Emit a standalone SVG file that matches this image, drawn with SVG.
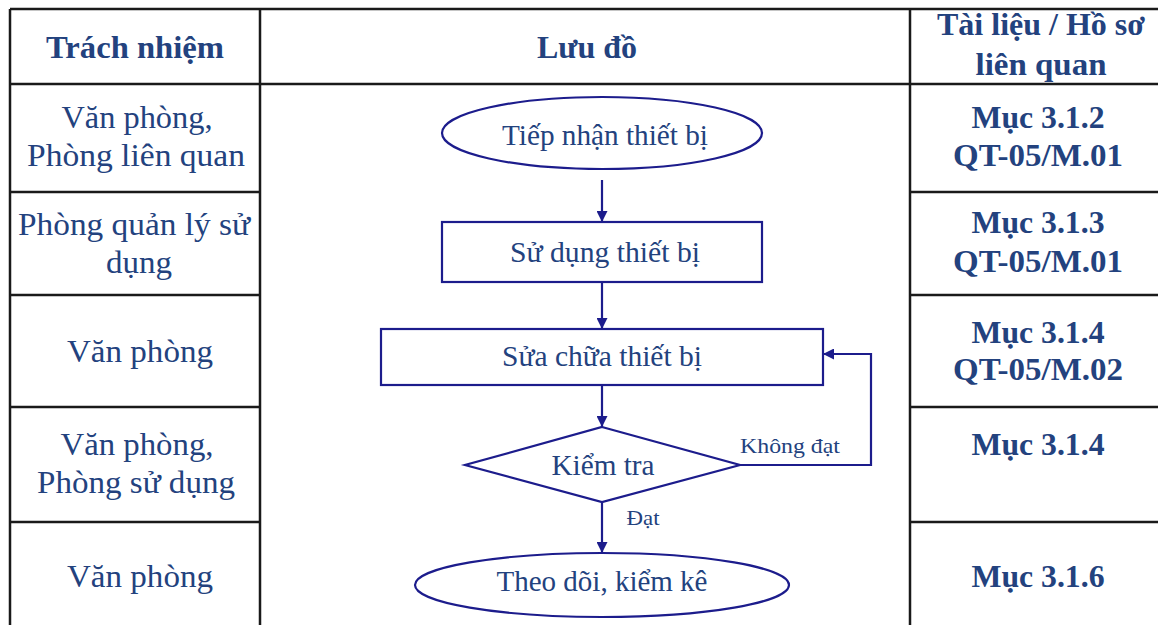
<svg xmlns="http://www.w3.org/2000/svg" width="1158" height="625" viewBox="0 0 1158 625">
<defs>
<style>
.grid{stroke:#1a1a1a;stroke-width:2.5;fill:none}
.shape{stroke:#1c1c8c;stroke-width:2.2;fill:#ffffff}
.conn{stroke:#1c1c8c;stroke-width:2.2;fill:none}
.t{font-family:"Liberation Serif","Times New Roman",serif;fill:#23427e;text-anchor:middle}
.hd{font-size:31px;font-weight:bold}
.rg{font-size:31px}
.fc{font-size:30px}
.lb{font-size:21px}
</style>
<marker id="arr" viewBox="0 0 10 10" refX="10" refY="5" markerWidth="12" markerHeight="11" markerUnits="userSpaceOnUse" orient="auto">
<path d="M0,0 L10,5 L0,10 z" fill="#1c1c8c"/>
</marker>
</defs>
<rect width="1158" height="625" fill="#ffffff"/>
<g id="table">
<line class="grid" x1="10" y1="9" x2="1158" y2="9"/>
<line class="grid" x1="10" y1="84" x2="1158" y2="84"/>
<line class="grid" x1="10" y1="9" x2="10" y2="625"/>
<line class="grid" x1="260" y1="9" x2="260" y2="625"/>
<line class="grid" x1="910" y1="9" x2="910" y2="625"/>
<line class="grid" x1="10" y1="192" x2="260" y2="192"/>
<line class="grid" x1="10" y1="295" x2="260" y2="295"/>
<line class="grid" x1="10" y1="407" x2="260" y2="407"/>
<line class="grid" x1="10" y1="522" x2="260" y2="522"/>
<line class="grid" x1="910" y1="192" x2="1158" y2="192"/>
<line class="grid" x1="910" y1="295" x2="1158" y2="295"/>
<line class="grid" x1="910" y1="407" x2="1158" y2="407"/>
<line class="grid" x1="910" y1="522" x2="1158" y2="522"/>
</g>
<g id="headers">
<text class="t hd" x="135" y="58" textLength="178" lengthAdjust="spacingAndGlyphs">Trách nhiệm</text>
<text class="t hd" x="587" y="58" textLength="100" lengthAdjust="spacingAndGlyphs">Lưu đồ</text>
<text class="t hd" x="1041" y="35" textLength="208" lengthAdjust="spacingAndGlyphs">Tài liệu / Hồ sơ</text>
<text class="t hd" x="1041" y="75" textLength="131" lengthAdjust="spacingAndGlyphs">liên quan</text>
</g>
<g id="responsibility">
<text class="t rg" x="137" y="128" textLength="151" lengthAdjust="spacingAndGlyphs">Văn phòng,</text>
<text class="t rg" x="136" y="166" textLength="218" lengthAdjust="spacingAndGlyphs">Phòng liên quan</text>
<text class="t rg" x="134" y="235" textLength="232" lengthAdjust="spacingAndGlyphs">Phòng quản lý sử</text>
<text class="t rg" x="139" y="273" textLength="66" lengthAdjust="spacingAndGlyphs">dụng</text>
<text class="t rg" x="140" y="362" textLength="146" lengthAdjust="spacingAndGlyphs">Văn phòng</text>
<text class="t rg" x="137" y="455" textLength="153" lengthAdjust="spacingAndGlyphs">Văn phòng,</text>
<text class="t rg" x="136" y="493" textLength="198" lengthAdjust="spacingAndGlyphs">Phòng sử dụng</text>
<text class="t rg" x="140" y="587" textLength="146" lengthAdjust="spacingAndGlyphs">Văn phòng</text>
</g>
<g id="documents">
<text class="t hd" x="1038" y="128" textLength="133" lengthAdjust="spacingAndGlyphs">Mục 3.1.2</text>
<text class="t hd" x="1038" y="166" textLength="170" lengthAdjust="spacingAndGlyphs">QT-05/M.01</text>
<text class="t hd" x="1038" y="233" textLength="133" lengthAdjust="spacingAndGlyphs">Mục 3.1.3</text>
<text class="t hd" x="1038" y="272" textLength="170" lengthAdjust="spacingAndGlyphs">QT-05/M.01</text>
<text class="t hd" x="1038" y="343" textLength="133" lengthAdjust="spacingAndGlyphs">Mục 3.1.4</text>
<text class="t hd" x="1038" y="380" textLength="170" lengthAdjust="spacingAndGlyphs">QT-05/M.02</text>
<text class="t hd" x="1038" y="455" textLength="133" lengthAdjust="spacingAndGlyphs">Mục 3.1.4</text>
<text class="t hd" x="1038" y="587" textLength="133" lengthAdjust="spacingAndGlyphs">Mục 3.1.6</text>
</g>
<g id="connectors">
<line class="conn" x1="602" y1="180" x2="602" y2="222" marker-end="url(#arr)"/>
<line class="conn" x1="602" y1="282" x2="602" y2="329" marker-end="url(#arr)"/>
<line class="conn" x1="602" y1="385" x2="602" y2="427" marker-end="url(#arr)"/>
<line class="conn" x1="602" y1="502" x2="602" y2="553" marker-end="url(#arr)"/>
<polyline class="conn" points="740,465 871,465 871,354 823,354" marker-end="url(#arr)"/>
<text class="t lb" x="790" y="453" textLength="100" lengthAdjust="spacingAndGlyphs">Không đạt</text>
<text class="t lb" x="643" y="525" textLength="33" lengthAdjust="spacingAndGlyphs">Đạt</text>
</g>
<g id="n1">
<ellipse class="shape" cx="602" cy="133" rx="160" ry="36"/>
<text class="t fc" x="605" y="145" textLength="206" lengthAdjust="spacingAndGlyphs">Tiếp nhận thiết  bị</text>
</g>
<g id="n2">
<rect class="shape" x="442" y="222" width="320" height="60"/>
<text class="t fc" x="605" y="262" textLength="190" lengthAdjust="spacingAndGlyphs">Sử dụng thiết bị</text>
</g>
<g id="n3">
<rect class="shape" x="381" y="329" width="442" height="56"/>
<text class="t fc" x="602" y="366" textLength="200" lengthAdjust="spacingAndGlyphs">Sửa chữa thiết bị</text>
</g>
<g id="n4">
<polygon class="shape" points="602,427 740,465 602,502 465,465"/>
<text class="t fc" x="603" y="475" textLength="103" lengthAdjust="spacingAndGlyphs">Kiểm tra</text>
</g>
<g id="n5">
<ellipse class="shape" cx="602" cy="585" rx="187" ry="32"/>
<text class="t fc" x="602" y="591" textLength="211" lengthAdjust="spacingAndGlyphs">Theo dõi, kiểm kê</text>
</g>
</svg>
